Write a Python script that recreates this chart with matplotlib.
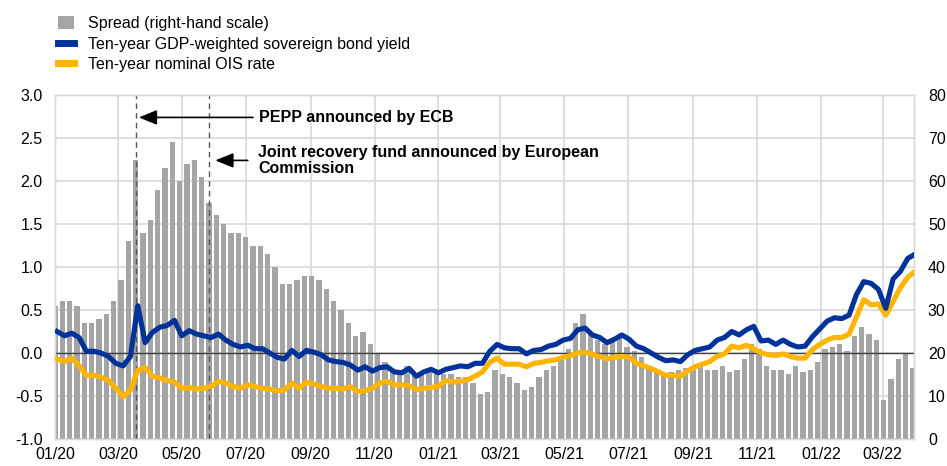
import matplotlib
matplotlib.use("Agg")
import matplotlib.pyplot as plt
import matplotlib.dates as mdates
from matplotlib.patches import Patch
from matplotlib.lines import Line2D
import pandas as pd
import numpy as np

plt.rcParams['font.family'] = ['Liberation Sans', 'DejaVu Sans']

# ---- data (weekly readings, Fridays from 3 Jan 2020) ----
week_dates = pd.date_range('2020-01-03', periods=118, freq='7D')

bond_yield = [
    0.25, 0.20, 0.23, 0.18, 0.02, 0.02, 0.00, -0.04, -0.12, -0.15,
    -0.04, 0.55, 0.12, 0.24, 0.30, 0.32, 0.38, 0.20, 0.26, 0.22,
    0.20, 0.18, 0.22, 0.15, 0.10, 0.07, 0.09, 0.05, 0.05, 0.00,
    -0.05, -0.07, 0.03, -0.04, 0.03, 0.01, -0.02, -0.08, -0.10, -0.11,
    -0.14, -0.20, -0.16, -0.21, -0.17, -0.16, -0.22, -0.23, -0.18, -0.27,
    -0.22, -0.19, -0.23, -0.19, -0.17, -0.15, -0.16, -0.12, -0.12, 0.02,
    0.10, 0.06, 0.05, 0.05, -0.01, 0.03, 0.04, 0.08, 0.10, 0.15,
    0.17, 0.27, 0.29, 0.21, 0.18, 0.12, 0.16, 0.21, 0.16, 0.08,
    0.05, 0.00, -0.05, -0.09, -0.08, -0.10, -0.02, 0.03, 0.05, 0.07,
    0.15, 0.18, 0.25, 0.21, 0.27, 0.31, 0.14, 0.15, 0.10, 0.15,
    0.10, 0.07, 0.08, 0.19, 0.28, 0.37, 0.41, 0.40, 0.44, 0.68,
    0.83, 0.81, 0.74, 0.52, 0.86, 0.95, 1.10, 1.15,
]

ois_rate = [
    -0.07, -0.10, -0.06, -0.15, -0.26, -0.26, -0.28, -0.32, -0.41, -0.51,
    -0.43, -0.20, -0.17, -0.27, -0.29, -0.32, -0.34, -0.41, -0.40, -0.42,
    -0.41, -0.39, -0.33, -0.35, -0.39, -0.41, -0.37, -0.39, -0.41, -0.42,
    -0.44, -0.43, -0.35, -0.41, -0.34, -0.36, -0.39, -0.41, -0.41, -0.42,
    -0.39, -0.45, -0.44, -0.41, -0.35, -0.33, -0.37, -0.37, -0.38, -0.43,
    -0.41, -0.40, -0.39, -0.32, -0.34, -0.33, -0.31, -0.27, -0.22, -0.11,
    -0.06, -0.13, -0.13, -0.13, -0.16, -0.12, -0.11, -0.09, -0.08, -0.05,
    -0.03, 0.00, 0.01, -0.02, -0.04, -0.07, -0.05, -0.04, -0.05, -0.12,
    -0.15, -0.18, -0.22, -0.26, -0.26, -0.27, -0.21, -0.16, -0.13, -0.10,
    -0.04, -0.01, 0.08, 0.06, 0.09, 0.05, 0.00, -0.02, -0.03, -0.01,
    -0.04, -0.06, -0.06, 0.04, 0.10, 0.15, 0.18, 0.18, 0.22, 0.42,
    0.62, 0.56, 0.57, 0.44, 0.60, 0.76, 0.88, 0.95,
]

spread_bp = [
    31, 32, 32, 31, 27, 27, 28, 29, 32, 37,
    46, 65, 48, 51, 58, 63, 69, 60, 64, 65,
    61, 55, 52, 50, 48, 48, 47, 45, 45, 43,
    40, 36, 36, 37, 38, 38, 37, 35, 32, 30,
    27, 24, 25, 22, 20, 18, 16, 15, 17, 15,
    15, 16, 15, 15, 15, 14.5, 14.5, 13, 10.5, 11,
    16, 15, 14.5, 13, 11.5, 12, 14.5, 16, 17, 18.5,
    21, 27, 29, 25, 23, 22, 23, 23.5, 21.5, 20.5,
    19, 17, 15.5, 15, 15.5, 16, 16.5, 17, 17, 16,
    16, 17, 15.5, 16, 18.5, 22, 21, 17, 16, 16,
    15, 17, 15.5, 16, 18, 21, 21.5, 22, 20.5, 24,
    26, 24.5, 23, 9, 14, 18.5, 20, 16.5,
]

event_dates = ['2020-03-18', '2020-05-27']
event_labels = ['PEPP announced by ECB',
                'Joint recovery fund announced by European\nCommission']

legend_labels = ['Spread (right-hand scale)',
                 'Ten-year GDP-weighted sovereign bond yield',
                 'Ten-year nominal OIS rate']

# ---- styling ----
BLUE = '#003299'
YELLOW = '#FFB400'
GREY = '#a5a5a5'
GRID = '#d9d9d9'
FS = 11.5

fig = plt.figure(figsize=(9.47, 4.66), dpi=100)
ax2 = fig.add_axes([0.0581, 0.058, 0.9071, 0.738])   # right-hand scale (bars)
ax = ax2.twinx()                                     # left-hand scale (lines)
ax.yaxis.tick_left()
ax2.yaxis.tick_right()
ax.yaxis.set_label_position('left')

# bars: one block per working week (Mon-Fri)
bar_centres = week_dates - pd.Timedelta(days=2)
ax2.bar(bar_centres, spread_bp, width=5.3, color=GREY, linewidth=0, zorder=2)

ax2.set_ylim(0, 80)
ax2.set_yticks(np.arange(0, 81, 10))
ax2.set_axisbelow(True)
ax2.grid(True, color=GRID, linewidth=1.2, zorder=0)

# lines on left scale
ax.axhline(0, color='#404040', linewidth=1.0, zorder=2)
for d in event_dates:
    ax.axvline(pd.Timestamp(d), color='#555555', linewidth=1.0,
               linestyle=(0, (4, 3)), zorder=2.5)
ax.plot(week_dates, ois_rate, color=YELLOW, linewidth=3.7, zorder=3,
        solid_joinstyle='round')
ax.plot(week_dates, bond_yield, color=BLUE, linewidth=3.7, zorder=4,
        solid_joinstyle='round')
ax.set_ylim(-1.0, 3.0)
ax.set_yticks(np.arange(-1.0, 3.01, 0.5))
ax.yaxis.set_major_formatter(matplotlib.ticker.FormatStrFormatter('%.1f'))

ax.set_xlim(pd.Timestamp('2020-01-01'), pd.Timestamp('2022-03-31'))
ax2.xaxis.set_major_locator(mdates.MonthLocator(bymonth=[1, 3, 5, 7, 9, 11]))
ax2.xaxis.set_major_formatter(mdates.DateFormatter('%m/%y'))

for a in (ax, ax2):
    for s in a.spines.values():
        s.set_color(GRID)
        s.set_linewidth(1.0)
    a.tick_params(length=0, labelsize=FS, colors='#000000')
ax.tick_params(axis='y', pad=9)
ax2.tick_params(axis='y', pad=10)
ax2.tick_params(axis='x', pad=6)

# annotations
ev0 = pd.Timestamp(event_dates[0])
ev1 = pd.Timestamp(event_dates[1])
ax.annotate('', xy=(ev0 + pd.Timedelta(days=3), 2.74),
            xytext=(ev0 + pd.Timedelta(days=112), 2.74),
            arrowprops=dict(arrowstyle='-|>,head_length=1.1,head_width=0.45',
                            color='black', linewidth=1.2, shrinkA=0, shrinkB=0))
ax.text(ev0 + pd.Timedelta(days=118), 2.74, event_labels[0], fontsize=FS,
        fontweight='bold', va='center', ha='left')
ax.annotate('', xy=(ev1 + pd.Timedelta(days=6), 2.24),
            xytext=(ev1 + pd.Timedelta(days=37), 2.24),
            arrowprops=dict(arrowstyle='-|>,head_length=1.1,head_width=0.45',
                            color='black', linewidth=1.2, shrinkA=0, shrinkB=0))
ax.text(ev1 + pd.Timedelta(days=47), 2.24, event_labels[1], fontsize=FS,
        fontweight='bold', va='center', ha='left', linespacing=1.05)

# legend
handles = [Patch(facecolor=GREY, edgecolor='none'),
           Line2D([], [], color=BLUE, linewidth=5),
           Line2D([], [], color=YELLOW, linewidth=5)]
fig.legend(handles, legend_labels, loc='upper left',
           bbox_to_anchor=(0.049, 0.99), frameon=False, fontsize=FS,
           handlelength=1.0, handleheight=0.9, handletextpad=0.9,
           labelspacing=0.35, borderaxespad=0.3)

fig.savefig('out.png', dpi=100)
